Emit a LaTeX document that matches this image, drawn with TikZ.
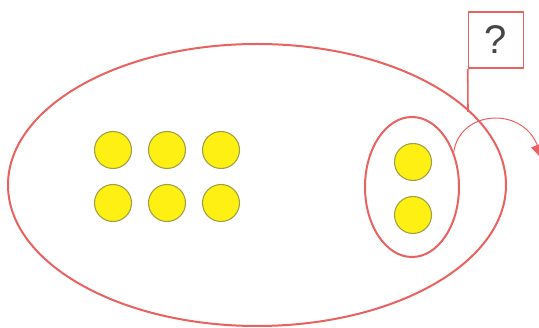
\documentclass[tikz,border=0pt]{standalone}
\usepackage{fontspec}
\setmainfont{Liberation Sans}
\usetikzlibrary{shapes.geometric,arrows.meta}
\definecolor{setred}{RGB}{234,98,96}
\definecolor{dotfill}{RGB}{255,240,20}
\definecolor{dotedge}{RGB}{160,160,70}
\definecolor{qgray}{RGB}{70,70,70}
\tikzset{
  setline/.style={draw=setred, line width=2pt, ellipse, inner sep=0pt},
  dot/.style={circle, fill=dotfill, draw=dotedge, line width=1.1pt, minimum size=37pt, inner sep=0pt},
  flagbox/.style={draw=setred, line width=1.6pt, minimum width=55pt, minimum height=56pt, inner sep=0pt, font=\fontsize{40}{40}\selectfont, text=qgray},
  pole/.style={draw=setred, line width=1.6pt},
  jump/.style={draw=setred, line width=1pt, -{Triangle[length=16pt,width=13pt]}}
}
\begin{document}
\begin{tikzpicture}[x=1pt,y=-1pt]
\useasboundingbox[fill=white] (0,0) rectangle (539,328);
\node[setline, minimum width=498pt, minimum height=282pt] (big) at (257,185) {};
\node[setline, minimum width=94pt, minimum height=140pt] (small) at (412,187) {};
\node[dot] (a1) at (113,150) {};
\node[dot] (a2) at (167,150) {};
\node[dot] (a3) at (221,150) {};
\node[dot] (b1) at (113,203) {};
\node[dot] (b2) at (167,203) {};
\node[dot] (b3) at (221,203) {};
\node[dot] (c1) at (413,162) {};
\node[dot] (c2) at (413,215) {};
\node[flagbox] (flag) at (496,40) {?};
\coordinate (poleend) at (468,112);
\draw[pole] (flag.south west) -- (poleend);
\coordinate (jumpend) at (543,160);
\draw[jump] (small.40) .. controls (460,110) and (522,106) .. (jumpend);
\end{tikzpicture}
\end{document}
